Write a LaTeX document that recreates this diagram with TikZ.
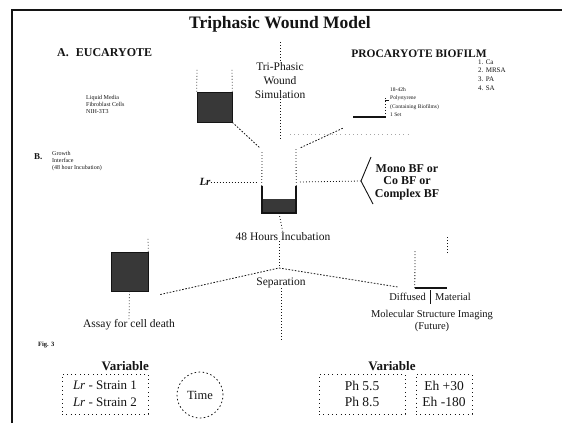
\documentclass[tikz,border=0pt]{standalone}
\usepackage{fontspec}
\setmainfont{Liberation Serif}
\usetikzlibrary{calc}
\definecolor{ink}{gray}{0.08}
\definecolor{mass}{gray}{0.22}
\begin{document}
\begin{tikzpicture}[x=1pt,y=-1pt,
  every node/.style={text=ink},
  txt/.style={inner sep=0pt, font=\fontsize{11.5}{14}\selectfont},
  small/.style={inner sep=0pt, align=left, font=\fontsize{6}{7}\selectfont},
  head/.style={inner sep=0pt, font=\bfseries\fontsize{11.5}{13}\selectfont},
  varhead/.style={inner sep=0pt, font=\bfseries\fontsize{13}{15}\selectfont},
  dotline/.style={draw=ink, dash pattern=on 0.8pt off 2.2pt, line width=0.8pt},
  dashline/.style={draw=ink, dash pattern=on 1.6pt off 1.6pt, line width=0.8pt},
  sparse/.style={draw=ink, dash pattern=on 0.8pt off 3.5pt, line width=0.8pt},
  cellmass/.style={fill=mass, draw=ink, line width=0.6pt, inner sep=0pt},
  wall/.style={draw=ink, line width=2pt},
]
\useasboundingbox (0,0) rectangle (562,423);

% page frame
\draw[ink, line width=2pt] (12,423) -- (12,10) -- (562,10);

% headings
\node[inner sep=0pt, font=\bfseries\fontsize{17.5}{20}\selectfont] (title) at (280,24) {Triphasic Wound Model};
\node[head, font=\bfseries\fontsize{12}{14}\selectfont, anchor=west] (euc) at (57,53) {A.\hspace{7pt}EUCARYOTE};
\node[head, anchor=base] (pro) at (419,57) {PROCARYOTE BIOFILM};
\node[txt, align=center] (sim) at (280,81) {Tri-Phasic\\Wound\\Simulation};
\coordinate (simtop) at (280,42);
\coordinate (simbot) at (280,140);
\draw[dotline] (simtop) -- (sim.north);
\draw[dotline] (sim.south) -- (simbot);

% organism list
\node[small, font=\fontsize{7}{8.6}\selectfont, anchor=north west] (orgs) at (478,59.5) {1. Ca\\2. MRSA\\3. PA\\4. SA};

% eucaryote culture flask
\node[small, anchor=west] (media) at (86,104) {Liquid Media\\Fibroblast Cells\\NIH-3T3};
\node[cellmass, minimum width=35pt, minimum height=30pt] (flaskA) at (214.5,107) {};
\coordinate (flaskAtl) at (197,68);
\coordinate (flaskAtr) at (232,68);
\draw[dotline] (flaskA.north west) -- (flaskAtl);
\draw[dotline] (flaskA.north east) -- (flaskAtr);

% procaryote biofilm disc
\node[fill=ink, inner sep=0pt, minimum width=32pt, minimum height=2pt] (bf) at (369,117) {};
\coordinate (brtop) at (385,97);
\coordinate (brbot) at (385,117);
\draw[dotline] (bf.east) -- (brbot) -- (brtop);
\node[small, font=\fontsize{5.5}{8.5}\selectfont, anchor=north west] (bflab) at (390,87)
  {18-42h\\Polystyrene\\(Containing Biofilms)\\1 Set};
\draw[ink, line width=0.5pt] ($(brtop)+(0,3)$) -- ++(4,0);
\draw[dotline, draw=gray!70, dash pattern=on 0.7pt off 3.5pt] (290,134) -- (410,134);

% growth interface well
\node[small, font=\bfseries\fontsize{9}{9}\selectfont, anchor=west] (blab) at (34,157) {B.};
\node[small, anchor=north west] (btxt) at (52,151) {Growth\\Interface\\(48 hour Incubation)};
\node[inner sep=0pt, minimum width=34pt, minimum height=27pt] (well) at (279,199.5) {};
\node[cellmass, draw=none, minimum width=34pt, minimum height=14pt] (wellfill) at (279,206) {};
\draw[wall] (well.north west) -- (well.south west) -- (well.south east) -- (well.north east);
\coordinate (wellL) at (262,150);
\coordinate (wellR) at (296,148);
\draw[dotline] (well.north west) -- (wellL);
\draw[dotline] (well.north east) -- (wellR);
\draw[dashline] (flaskA.south east) -- ($(wellL)+(-2,-2)$);
\draw[dashline] ($(bf.south west)+(-10,10)$) -- ($(wellR)+(4,0)$);

% inoculum and biofilm type
\node[inner sep=0pt, font=\bfseries\itshape\fontsize{11}{13}\selectfont] (lr) at (205,182) {Lr};
\draw[dotline] (lr.east) -- (258,182);
\coordinate (tip) at (361,181);
\draw[dotline] (300,182) -- (tip);
\draw[ink, line width=0.9pt] (371,157) -- (tip) -- (373,204);
\node[inner sep=0pt, align=center, font=\bfseries\fontsize{12}{12.5}\selectfont] (mono) at (407,182)
  {Mono BF or\\Co BF or\\Complex BF};

% incubation and separation
\node[txt] (incub) at (283,237) {48 Hours Incubation};
\draw[dotline] (well.south) -- (incub.north);
\coordinate (junc) at (279,268);
\draw[dotline] (incub.south -| junc) -- (junc);
\node[txt] (sep) at (281,283) {Separation};
\coordinate (sepend) at (281,342);
\draw[dotline] (sep.south) -- (sepend);

% cell death assay
\node[cellmass, minimum width=37pt, minimum height=39pt] (flaskB) at (129.5,271.5) {};
\coordinate (flaskBtr) at (148,238);
\draw[dotline] (flaskB.north east) -- (flaskBtr);
\node[txt] (assay) at (129,325) {Assay for cell death};
\draw[dotline] (flaskB.south) -- (assay.north);
\draw[dashline] ($(flaskB.east)+(12,23)$) -- (junc);

% molecular imaging
\node[fill=ink, inner sep=0pt, minimum width=32pt, minimum height=2pt] (flaskC) at (431,288) {};
\coordinate (flaskCtl) at (415,250);
\coordinate (flaskCtr) at (447,236);
\draw[dotline] (flaskC.west) -- (flaskCtl);
\draw[dotline] (447,253) -- (flaskCtr);
\draw[dashline] (junc) -- ($(flaskC.west)+(-17,-1)$);
\node[inner sep=0pt, font=\fontsize{10.5}{12}\selectfont, anchor=east] (diff) at (426,297) {Diffused};
\node[inner sep=0pt, font=\fontsize{10.5}{12}\selectfont, anchor=west] (mat) at (435,297) {Material};
\draw[ink, line width=0.6pt] (430.5,290) -- (430.5,304);
\node[inner sep=0pt, align=center, font=\fontsize{10.5}{12}\selectfont] (mol) at (432,321)
  {Molecular Structure Imaging\\(Future)};

\node[inner sep=0pt, font=\bfseries\fontsize{6.5}{7}\selectfont, anchor=west] (fig) at (38,345) {Fig. 3};

% variables
\node[varhead, anchor=east] (varL) at (149,366) {Variable};
\node[sparse, minimum width=86pt, minimum height=40pt, align=center, inner sep=0pt,
  font=\fontsize{13}{17}\selectfont] (strains) at (105,394)
  {\textit{Lr} - Strain 1\\\textit{Lr} - Strain 2};
\node[draw=ink, dash pattern=on 1.5pt off 2.5pt, line width=0.8pt, circle, minimum size=46pt,
  inner sep=0pt, font=\fontsize{12.5}{14}\selectfont] (time) at (200,395) {Time};

\node[varhead] (varR) at (392,366) {Variable};
\node[sparse, minimum width=86pt, minimum height=40pt, align=center, inner sep=0pt,
  font=\fontsize{13.5}{15.5}\selectfont] (ph) at (362,394) {Ph 5.5\\Ph 8.5};
\node[sparse, minimum width=56pt, minimum height=40pt, align=center, inner sep=0pt,
  font=\fontsize{13.5}{15.5}\selectfont] (eh) at (444,394) {Eh +30\\Eh -180};
\end{tikzpicture}
\end{document}
